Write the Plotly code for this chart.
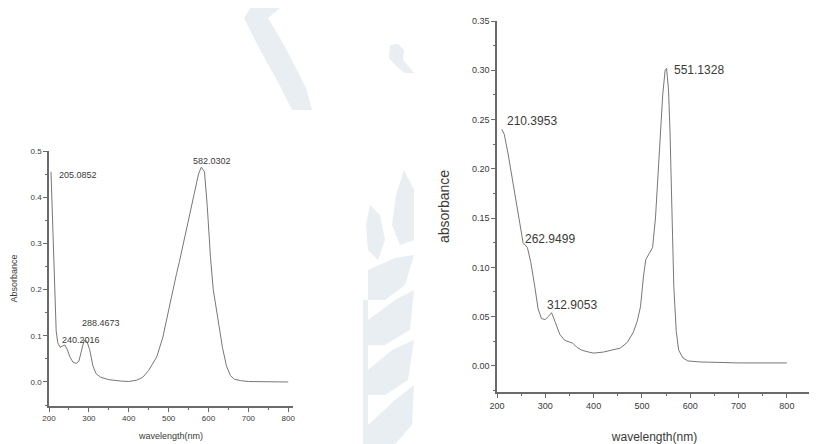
import plotly.graph_objects as go

# Left spectrum
left_wl = [205, 207, 210, 214, 218, 222, 228, 234, 240, 246, 252, 260, 268, 275, 282, 288,
           295, 302, 310, 318, 330, 350, 380, 400, 420, 435, 450, 470, 485, 495, 510, 520,
           527, 540, 548, 556, 566, 575, 582, 590, 597, 605, 612, 623, 635, 645, 655, 665,
           680, 700, 750, 800]
left_abs = [0.455, 0.40, 0.30, 0.18, 0.11, 0.085, 0.075, 0.078, 0.080, 0.070, 0.055, 0.043,
            0.040, 0.045, 0.070, 0.090, 0.088, 0.070, 0.035, 0.018, 0.010, 0.005, 0.002,
            0.001, 0.004, 0.010, 0.025, 0.054, 0.095, 0.135, 0.20, 0.235, 0.26, 0.31, 0.34,
            0.37, 0.41, 0.45, 0.465, 0.455, 0.38, 0.27, 0.20, 0.14, 0.075, 0.035, 0.014,
            0.006, 0.003, 0.001, 0.0, 0.0]
left_peaks_wl = [205.0852, 240.2016, 288.4673, 582.0302]
left_peaks_abs = [0.455, 0.080, 0.090, 0.465]
left_peak_labels = ["205.0852", "240.2016", "288.4673", "582.0302"]

# Right spectrum
right_wl = [210, 215, 223, 235, 245, 254, 263, 270, 279, 285, 292, 300, 306, 313, 320, 330,
            340, 350, 357, 365, 375, 390, 400, 420, 440, 455, 470, 482, 490, 497, 503, 508,
            515, 522, 528, 533, 538, 543, 548, 551, 555, 558, 562, 566, 571, 576, 585, 595,
            620, 700, 800]
right_abs = [0.240, 0.235, 0.215, 0.180, 0.150, 0.125, 0.120, 0.105, 0.078, 0.058, 0.048,
             0.047, 0.050, 0.054, 0.045, 0.032, 0.026, 0.024, 0.023, 0.019, 0.016, 0.014,
             0.013, 0.014, 0.016, 0.018, 0.024, 0.034, 0.045, 0.060, 0.090, 0.108, 0.114,
             0.120, 0.150, 0.190, 0.230, 0.275, 0.300, 0.302, 0.280, 0.240, 0.160, 0.080,
             0.035, 0.016, 0.008, 0.005, 0.004, 0.003, 0.003]
right_peaks_wl = [210.3953, 262.9499, 312.9053, 551.1328]
right_peaks_abs = [0.240, 0.120, 0.054, 0.302]
right_peak_labels = ["210.3953", "262.9499", "312.9053", "551.1328"]

x_ticks = [200, 300, 400, 500, 600, 700, 800]
left_y_ticks = [0.0, 0.1, 0.2, 0.3, 0.4, 0.5]
left_y_ticktext = ["0.0", "0.1", "0.2", "0.3", "0.4", "0.5"]
right_y_ticks = [0.0, 0.05, 0.10, 0.15, 0.20, 0.25, 0.30, 0.35]
right_y_ticktext = ["0.00", "0.05", "0.10", "0.15", "0.20", "0.25", "0.30", "0.35"]

FONT = "Liberation Sans, Arial, sans-serif"
LINE = "#6a6a6a"
TXT = "#3a3a3a"

# the page body has an 8px margin; size the figure so it fits the 817x444 window
OFF = 8
FW, FH = 817 - OFF, 444 - OFF


def PX(px):
    return (px - OFF) / FW


def PY(py):
    return 1 - (py - OFF) / FH


fig = go.Figure()
fig.add_trace(go.Scatter(x=left_wl, y=left_abs, mode="lines",
                         line=dict(color="#777", width=1), xaxis="x", yaxis="y",
                         showlegend=False, hoverinfo="skip"))
fig.add_trace(go.Scatter(x=right_wl, y=right_abs, mode="lines",
                         line=dict(color="#777", width=1), xaxis="x2", yaxis="y2",
                         showlegend=False, hoverinfo="skip"))


def axis_common(size, mdtick, mtick0=0):
    return dict(showline=True, linecolor=LINE, linewidth=1.5, ticks="outside",
                ticklen=4, tickwidth=1, tickcolor=LINE, showgrid=False, zeroline=False,
                automargin=False,
                tickfont=dict(family=FONT, size=size, color=TXT),
                minor=dict(ticks="outside", ticklen=2, tickcolor=LINE, showgrid=False,
                           dtick=mdtick, tick0=mtick0))


fig.update_layout(
    width=FW, height=FH, margin=dict(l=0, r=0, t=0, b=0, autoexpand=False),
    paper_bgcolor="white", plot_bgcolor="rgba(0,0,0,0)",
    xaxis=dict(domain=[PX(49), PX(293)], range=[200, 812], tickvals=x_ticks,
               title=dict(text="wavelength(nm)", font=dict(family=FONT, size=9, color=TXT),
                          standoff=10),
               anchor="y", **axis_common(8, 50, 200)),
    yaxis=dict(domain=[PY(406), PY(151)], range=[-0.052, 0.5],
               tickvals=left_y_ticks, ticktext=left_y_ticktext,
               title=dict(text="Absorbance", font=dict(family=FONT, size=9, color=TXT),
                          standoff=11),
               anchor="x", **axis_common(8, 0.05)),
    xaxis2=dict(domain=[PX(497), PX(812)], range=[200, 852], tickvals=x_ticks,
                title=dict(text="wavelength(nm)", font=dict(family=FONT, size=12, color=TXT),
                           standoff=26),
                anchor="y2", **axis_common(9, 50, 200)),
    yaxis2=dict(domain=[PY(392), PY(21)], range=[-0.0265, 0.35],
                tickvals=right_y_ticks, ticktext=right_y_ticktext,
                title=dict(text="absorbance", font=dict(family=FONT, size=14, color=TXT),
                           standoff=19),
                anchor="x2", **axis_common(9, 0.025)),
)

# label offsets (pixels) relative to each peak
left_shift = [(6, -3), (-5, 5), (-4, 17), (-10, 6)]
right_shift = [(3, 8), (-4, 9), (-7, 8), (5, -2)]
for (wl, ab, lab), (dx, dy) in zip(zip(left_peaks_wl, left_peaks_abs, left_peak_labels), left_shift):
    fig.add_annotation(x=wl, y=ab, xref="x", yref="y", text=lab, showarrow=False,
                       xanchor="left", yanchor="middle", xshift=dx, yshift=dy,
                       font=dict(family=FONT, size=9, color=TXT))
for (wl, ab, lab), (dx, dy) in zip(zip(right_peaks_wl, right_peaks_abs, right_peak_labels), right_shift):
    fig.add_annotation(x=wl, y=ab, xref="x2", yref="y2", text=lab, showarrow=False,
                       xanchor="left", yanchor="middle", xshift=dx, yshift=dy,
                       font=dict(family=FONT, size=12, color=TXT))


# faint background watermark (decoration), given in window pixel coordinates
def px_path(points):
    parts = []
    for i, (px, py) in enumerate(points):
        parts.append(("M" if i == 0 else "L") + f"{PX(px):.4f},{PY(py):.4f}")
    return " ".join(parts) + " Z"


WM = "rgba(205,218,225,0.45)"
wm_shapes = [
    [(256, 0), (290, 0), (268, 18), (284, 45), (306, 88), (312, 110), (292, 110),
     (278, 82), (258, 46), (244, 18)],
    [(390, 45), (398, 44), (404, 50), (403, 60), (410, 68), (414, 73), (405, 73),
     (396, 66), (389, 58)],
    [(363, 300), (368, 300), (368, 444), (363, 444)],
    [(404, 170), (414, 190), (414, 240), (400, 245), (392, 225), (396, 195)],
    [(370, 205), (380, 215), (385, 240), (378, 260), (368, 250), (366, 225)],
    [(368, 270), (395, 258), (414, 255), (405, 285), (385, 300), (368, 300)],
    [(368, 320), (395, 300), (414, 290), (410, 330), (385, 345), (368, 345)],
    [(368, 370), (392, 350), (414, 340), (408, 380), (385, 395), (368, 395)],
    [(368, 425), (395, 400), (414, 385), (412, 425), (395, 444), (368, 444)],
]
for pts in wm_shapes:
    fig.add_shape(type="path", path=px_path(pts), xref="paper", yref="paper",
                  fillcolor=WM, line=dict(width=0), layer="below")

fig.write_html("out.html")
